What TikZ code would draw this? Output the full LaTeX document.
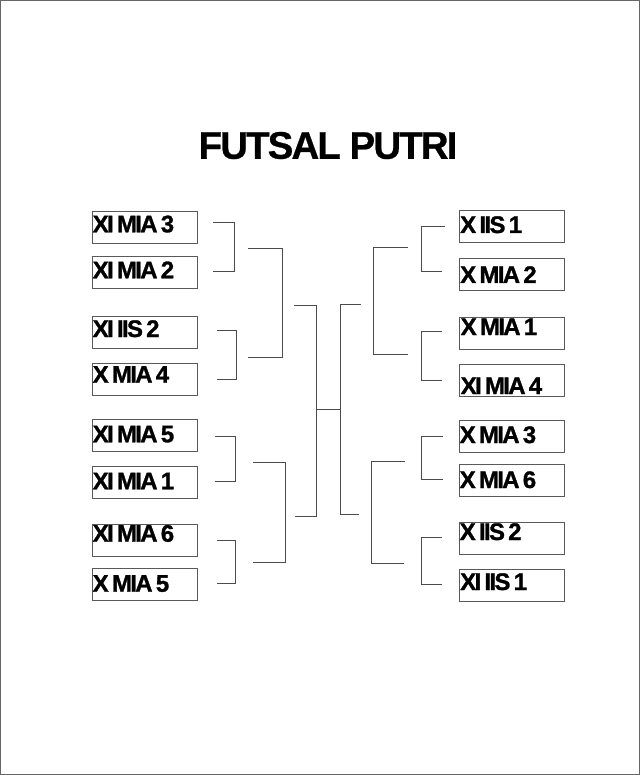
\documentclass[tikz,border=0pt]{standalone}
\usepackage{fontspec}
\newfontfamily\labfont[LetterSpace=-7,WordSpace=0.65,FakeBold=1.2]{Liberation Sans}
\newfontfamily\titfont[LetterSpace=-5,FakeBold=0.6]{Liberation Sans}
\begin{document}
\begin{tikzpicture}[x=1pt,y=-1pt,
  box/.style={draw=black!65,line width=0.8pt,minimum width=105pt,minimum height=32pt,inner sep=0pt},
  lab/.style={anchor=base west,inner sep=0pt,font=\labfont\bfseries\fontsize{24}{26}\selectfont},
  tit/.style={inner sep=0pt,font=\titfont\bfseries\fontsize{38.5}{40}\selectfont},
  brk/.style={draw=black!70,line width=0.9pt}]
\useasboundingbox (0,0) rectangle (640,775);
\draw[black!60,line width=1.2pt] (0.6,0.6) rectangle (639.4,774.4);
\node[tit] (title) at (328,145.5) {FUTSAL PUTRI};
% left boxes
\node[box] (L1) at (144.5,227) {};
\node[box] (L2) at (144.5,272) {};
\node[box] (L3) at (144.5,332) {};
\node[box] (L4) at (144.5,379) {};
\node[box] (L5) at (144.5,435.5) {};
\node[box] (L6) at (144.5,482) {};
\node[box] (L7) at (144.5,540) {};
\node[box] (L8) at (144.5,584.5) {};
\node[lab] (tL1) at (92.5,232.3) {XI MIA 3};
\node[lab] (tL2) at (92.5,278.3) {XI MIA 2};
\node[lab] (tL3) at (92.5,337) {XI IIS 2};
\node[lab] (tL4) at (92.5,382.7) {X MIA 4};
\node[lab] (tL5) at (92.5,442.3) {XI MIA 5};
\node[lab] (tL6) at (92.5,489.3) {XI MIA 1};
\node[lab] (tL7) at (92.5,541.7) {XI MIA 6};
\node[lab] (tL8) at (92.5,591.7) {X MIA 5};
% right boxes
\node[box] (R1) at (511.7,226) {};
\node[box] (R2) at (511.7,274) {};
\node[box] (R3) at (511.7,333) {};
\node[box] (R4) at (511.7,380) {};
\node[box] (R5) at (511.7,436) {};
\node[box] (R6) at (511.7,480) {};
\node[box] (R7) at (511.7,538.5) {};
\node[box] (R8) at (511.7,585) {};
\node[lab] (tR1) at (460,233) {X IIS 1};
\node[lab] (tR2) at (460,283) {X MIA 2};
\node[lab] (tR3) at (460.5,335) {X MIA 1};
\node[lab] (tR4) at (460.5,394) {XI MIA 4};
\node[lab] (tR5) at (459.5,443) {X MIA 3};
\node[lab] (tR6) at (459.5,488) {X MIA 6};
\node[lab] (tR7) at (459.5,540) {X IIS 2};
\node[lab] (tR8) at (460,590) {XI IIS 1};
% bracket end points, left
\coordinate (lb1t) at (213,222.7);   \coordinate (lb1b) at (213,271.7);
\coordinate (lb2t) at (216.7,330);   \coordinate (lb2b) at (216.7,379);
\coordinate (lb3t) at (215,436);     \coordinate (lb3b) at (215,481.7);
\coordinate (lb4t) at (216.7,540.7); \coordinate (lb4b) at (216.7,583.3);
\coordinate (lr1t) at (248,248.3);   \coordinate (lr1b) at (248,357.7);
\coordinate (lr2t) at (253.3,462.7); \coordinate (lr2b) at (253.3,562.3);
\coordinate (lst) at (294,305);      \coordinate (lsb) at (295,516);
\coordinate (fl) at (316,409);       \coordinate (fr) at (340,409);
% bracket end points, right
\coordinate (rst) at (360.7,304.3);  \coordinate (rsb) at (359,514.7);
\coordinate (rr1t) at (408.3,247.3); \coordinate (rr1b) at (408.3,354.3);
\coordinate (rr2t) at (405,461);     \coordinate (rr2b) at (404.3,563.3);
\coordinate (rb1t) at (445,226);     \coordinate (rb1b) at (441.7,271.7);
\coordinate (rb2t) at (441.7,331.7); \coordinate (rb2b) at (441.7,380);
\coordinate (rb3t) at (443.3,436);   \coordinate (rb3b) at (443.3,479.3);
\coordinate (rb4t) at (441.7,537.3); \coordinate (rb4b) at (441.7,584);
% left brackets
\draw[brk] (lb1t) -- ++(21,0) |- (lb1b);
\draw[brk] (lb2t) -- ++(20,0) |- (lb2b);
\draw[brk] (lb3t) -- ++(20.7,0) |- (lb3b);
\draw[brk] (lb4t) -- ++(19,0) |- (lb4b);
\draw[brk] (lr1t) -- ++(34.3,0) |- (lr1b);
\draw[brk] (lr2t) -- ++(31.7,0) |- (lr2b);
\draw[brk] (lst) -- ++(22,0) |- (lsb);
\draw[brk] (fl) -- (fr);
% right brackets
\draw[brk] (rst) -- ++(-20.7,0) |- (rsb);
\draw[brk] (rr1t) -- ++(-35,0) |- (rr1b);
\draw[brk] (rr2t) -- ++(-34,0) |- (rr2b);
\draw[brk] (rb1t) -- ++(-23.3,0) |- (rb1b);
\draw[brk] (rb2t) -- ++(-20,0) |- (rb2b);
\draw[brk] (rb3t) -- ++(-21.6,0) |- (rb3b);
\draw[brk] (rb4t) -- ++(-20,0) |- (rb4b);
\end{tikzpicture}
\end{document}
